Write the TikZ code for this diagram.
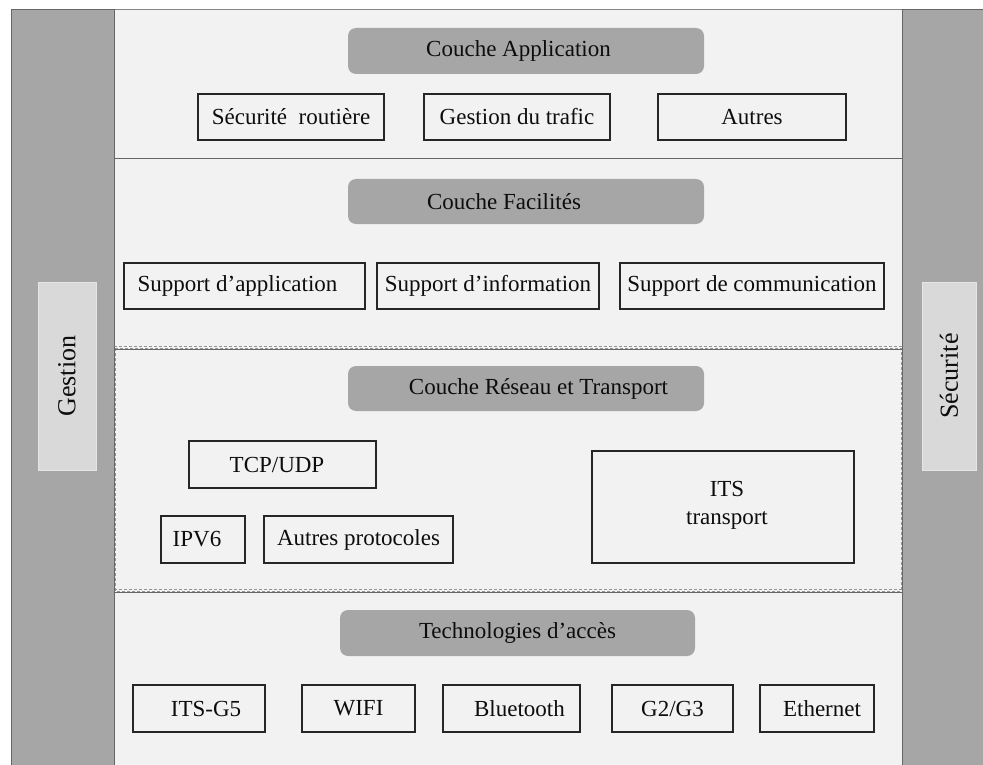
\documentclass[tikz,border=0pt]{standalone}
\usepackage{fontspec}
\setmainfont{Liberation Serif}
\definecolor{bar}{HTML}{A6A6A6}
\definecolor{bg}{HTML}{F2F2F2}
\definecolor{side}{HTML}{D9D9D9}
\definecolor{edge}{HTML}{666666}
\definecolor{ink}{HTML}{0D0D0D}
\begin{document}
\begin{tikzpicture}[x=1pt,y=-1pt,
  every node/.style={font=\fontsize{23}{26}\selectfont, text=ink, inner sep=0pt},
  box/.style={draw=black!85, line width=1.1pt, fill=bg, anchor=center},
  head/.style={fill=bar, rounded corners=8pt, anchor=center, text=black!95},
  sidebox/.style={fill=side, draw=white!90!black, line width=0.8pt, anchor=center},
  sidetxt/.style={rotate=90, font=\fontsize{26}{30}\selectfont}]
\useasboundingbox (0,0) rectangle (983,765);
\fill[white] (0,0) rectangle (983,765);
% main area
\fill[bg] (114,9) rectangle (902,765);
% middle layer dotted frame
\draw[edge!70, densely dashed, line width=0.6pt] (115,348) rectangle (901,591);
% dividers
\draw[edge, line width=1pt] (114,159) -- (902,159);
\draw[edge!70, densely dashed, line width=0.6pt] (114,346) -- (902,346);
\draw[edge, line width=1pt] (114,349) -- (902,349);
\draw[edge!70, densely dashed, line width=0.6pt] (114,589) -- (902,589);
\draw[edge, line width=1pt] (114,592) -- (902,592);
% top line
\draw[edge!80, line width=1pt] (11,9.5) -- (983,9.5);
% side bars
\draw[fill=bar, draw=edge, line width=1pt] (11.5,9.5) rectangle (114,770);
\draw[fill=bar, draw=edge, line width=1pt] (902,9.5) rectangle (990,770);
\node[sidebox, minimum width=58pt, minimum height=188pt] (gestion) at (67,376) {};
\node[sidetxt] (gestiontxt) at (gestion.center) {Gestion};
\node[sidebox, minimum width=54pt, minimum height=188pt] (securite) at (949,376) {};
\node[sidetxt] (securitetxt) at (securite.center) {Sécurité};
% headers
\node[head, minimum width=356pt, minimum height=46pt] (happ) at (526,51) {Couche Application\hspace*{15pt}};
\node[head, minimum width=356pt, minimum height=45pt] (hfac) at (526,201.5) {Couche Facilités\hspace*{44pt}};
\node[head, minimum width=356pt, minimum height=45pt] (hres) at (526,388.5) {\hspace*{25pt}Couche Réseau et Transport};
\node[head, minimum width=355pt, minimum height=46pt] (htec) at (517.5,633) {Technologies d’accès};
% application
\node[box, minimum width=186pt, minimum height=46pt] (secr) at (291,117) {Sécurité\ \ routière};
\node[box, minimum width=186pt, minimum height=46pt] (gtraf) at (517,117) {Gestion du trafic};
\node[box, minimum width=188pt, minimum height=46pt] (autres) at (752,117) {Autres};
% facilities
\node[box, minimum width=241pt, minimum height=46pt] (sapp) at (244.5,286) {Support d’application\hspace*{14pt}};
\node[box, minimum width=222pt, minimum height=46pt] (sinf) at (488,286) {Support d’information};
\node[box, minimum width=264pt, minimum height=46pt] (scom) at (752,286) {Support de communication};
% network
\node[box, minimum width=187pt, minimum height=47pt] (tcp) at (282.5,464.5) {TCP/UDP\hspace*{11pt}};
\node[box, minimum width=84pt, minimum height=47pt] (ipv6) at (203,539.5) {IPV6\hspace*{12pt}};
\node[box, minimum width=189pt, minimum height=47pt] (autp) at (358.5,539.5) {Autres protocoles};
\node[box, minimum width=262pt, minimum height=112pt] (itst) at (723,507) {};
\node[align=center, font=\fontsize{23}{28}\selectfont] (itstxt) at (727,505) {ITS\\transport};
% access
\node[box, minimum width=132pt, minimum height=47pt] (g5) at (199,708.5) {\hspace*{14pt}ITS-G5};
\node[box, minimum width=113pt, minimum height=47pt] (wifi) at (358.5,708.5) {WIFI};
\node[box, minimum width=137pt, minimum height=47pt] (bt) at (511.5,708.5) {\hspace*{16pt}Bluetooth};
\node[box, minimum width=121pt, minimum height=47pt] (g23) at (672.5,708.5) {G2/G3};
\node[box, minimum width=114pt, minimum height=47pt] (eth) at (817,708.5) {\hspace*{10pt}Ethernet};
\end{tikzpicture}
\end{document}
